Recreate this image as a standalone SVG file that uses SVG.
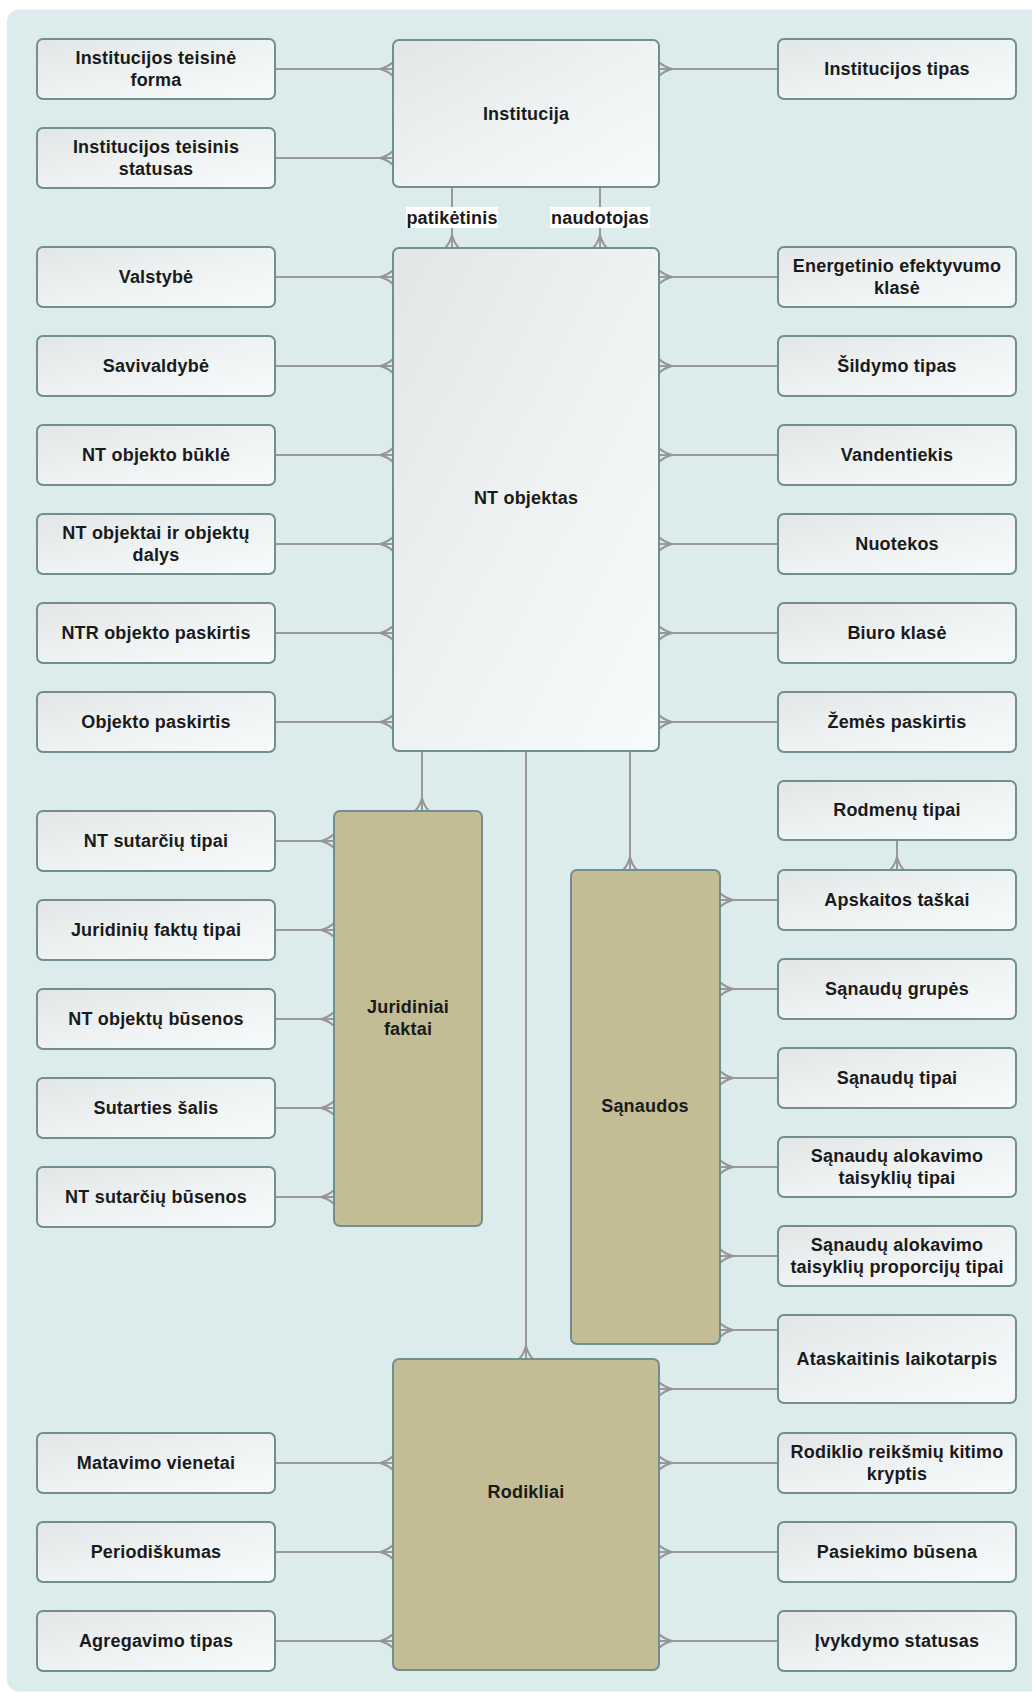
<svg xmlns="http://www.w3.org/2000/svg" width="1032" height="1693" viewBox="0 0 1032 1693">
<defs>
<linearGradient id="boxg" x1="0" y1="0" x2="1" y2="1">
<stop offset="0" stop-color="#e2e6e7"/>
<stop offset="0.5" stop-color="#eef2f3"/>
<stop offset="1" stop-color="#f8fbfc"/>
</linearGradient>
<marker id="many" viewBox="-15 -9 18 18" refX="0" refY="0" markerWidth="18" markerHeight="18" markerUnits="userSpaceOnUse" orient="auto">
<path d="M -13 0 Q -5 -2 0 -7 M -13 0 Q -5 2 0 7" fill="none" stroke="#959595" stroke-width="2"/>
</marker>
<style>
.bg{fill:#dcebeb}
.box{fill:url(#boxg);stroke:#708f8e;stroke-width:2}
.ent{fill:#c3bc95;stroke:#708f8e;stroke-width:2}
.t{font-family:"Liberation Sans",Arial,sans-serif;font-weight:bold;font-size:18px;fill:#1a1a1a;text-anchor:middle;letter-spacing:0.2px}
.c{fill:none;stroke:#999999;stroke-width:2;marker-end:url(#many)}
.lbl{fill:#ffffff}
</style>
</defs>
<rect class="bg" x="7" y="9.5" width="1040" height="1682" rx="12"/>

<g id="connectors">
<line class="c" x1="275" y1="69" x2="393" y2="69"/>
<line class="c" x1="275" y1="158" x2="393" y2="158"/>
<line class="c" x1="778" y1="69" x2="659" y2="69"/>
<line class="c" x1="452" y1="187" x2="452" y2="248"/>
<line class="c" x1="600" y1="187" x2="600" y2="248"/>
<line class="c" x1="275" y1="277" x2="393" y2="277"/>
<line class="c" x1="275" y1="366" x2="393" y2="366"/>
<line class="c" x1="275" y1="455" x2="393" y2="455"/>
<line class="c" x1="275" y1="544" x2="393" y2="544"/>
<line class="c" x1="275" y1="633" x2="393" y2="633"/>
<line class="c" x1="275" y1="722" x2="393" y2="722"/>
<line class="c" x1="778" y1="277" x2="659" y2="277"/>
<line class="c" x1="778" y1="366" x2="659" y2="366"/>
<line class="c" x1="778" y1="455" x2="659" y2="455"/>
<line class="c" x1="778" y1="544" x2="659" y2="544"/>
<line class="c" x1="778" y1="633" x2="659" y2="633"/>
<line class="c" x1="778" y1="722" x2="659" y2="722"/>
<line class="c" x1="422" y1="751" x2="422" y2="811"/>
<line class="c" x1="630" y1="751" x2="630" y2="870"/>
<line class="c" x1="526" y1="751" x2="526" y2="1359"/>
<line class="c" x1="275" y1="841" x2="334" y2="841"/>
<line class="c" x1="275" y1="930" x2="334" y2="930"/>
<line class="c" x1="275" y1="1019" x2="334" y2="1019"/>
<line class="c" x1="275" y1="1108" x2="334" y2="1108"/>
<line class="c" x1="275" y1="1197" x2="334" y2="1197"/>
<line class="c" x1="897" y1="840" x2="897" y2="870"/>
<line class="c" x1="778" y1="900" x2="720" y2="900"/>
<line class="c" x1="778" y1="989" x2="720" y2="989"/>
<line class="c" x1="778" y1="1078" x2="720" y2="1078"/>
<line class="c" x1="778" y1="1167" x2="720" y2="1167"/>
<line class="c" x1="778" y1="1256" x2="720" y2="1256"/>
<line class="c" x1="778" y1="1330" x2="720" y2="1330"/>
<line class="c" x1="778" y1="1389" x2="659" y2="1389"/>
<line class="c" x1="778" y1="1463" x2="659" y2="1463"/>
<line class="c" x1="778" y1="1552" x2="659" y2="1552"/>
<line class="c" x1="778" y1="1641" x2="659" y2="1641"/>
<line class="c" x1="275" y1="1463" x2="393" y2="1463"/>
<line class="c" x1="275" y1="1552" x2="393" y2="1552"/>
<line class="c" x1="275" y1="1641" x2="393" y2="1641"/>
<g id="label-patiketinis">
<rect class="lbl" x="406" y="207" width="92" height="21"/>
<text class="t" x="452" y="224">patikėtinis</text>
</g>
<g id="label-naudotojas">
<rect class="lbl" x="550" y="207" width="100" height="21"/>
<text class="t" x="600" y="224">naudotojas</text>
</g>
</g>

<g id="institucija"><rect class="box" x="393" y="40" width="266" height="147" rx="6"/><text class="t" x="526" y="120">Institucija</text></g>
<g id="nt-objektas"><rect class="box" x="393" y="248" width="266" height="503" rx="6"/><text class="t" x="526" y="504">NT objektas</text></g>
<g id="juridiniai-faktai"><rect class="ent" x="334" y="811" width="148" height="415" rx="6"/><text class="t" x="408" y="1013">Juridiniai</text><text class="t" x="408" y="1035">faktai</text></g>
<g id="sanaudos"><rect class="ent" x="571" y="870" width="149" height="474" rx="6"/><text class="t" x="645" y="1112">Sąnaudos</text></g>
<g id="rodikliai"><rect class="ent" x="393" y="1359" width="266" height="311" rx="6"/><text class="t" x="526" y="1498">Rodikliai</text></g>

<g id="inst-teisine-forma"><rect class="box" x="37" y="39" width="238" height="60" rx="6"/><text class="t" x="156" y="64">Institucijos teisinė</text><text class="t" x="156" y="86">forma</text></g>
<g id="inst-teisinis-statusas"><rect class="box" x="37" y="128" width="238" height="60" rx="6"/><text class="t" x="156" y="153">Institucijos teisinis</text><text class="t" x="156" y="175">statusas</text></g>
<g id="valstybe"><rect class="box" x="37" y="247" width="238" height="60" rx="6"/><text class="t" x="156" y="283">Valstybė</text></g>
<g id="savivaldybe"><rect class="box" x="37" y="336" width="238" height="60" rx="6"/><text class="t" x="156" y="372">Savivaldybė</text></g>
<g id="nt-objekto-bukle"><rect class="box" x="37" y="425" width="238" height="60" rx="6"/><text class="t" x="156" y="461">NT objekto būklė</text></g>
<g id="nt-objektai-dalys"><rect class="box" x="37" y="514" width="238" height="60" rx="6"/><text class="t" x="156" y="539">NT objektai ir objektų</text><text class="t" x="156" y="561">dalys</text></g>
<g id="ntr-objekto-paskirtis"><rect class="box" x="37" y="603" width="238" height="60" rx="6"/><text class="t" x="156" y="639">NTR objekto paskirtis</text></g>
<g id="objekto-paskirtis"><rect class="box" x="37" y="692" width="238" height="60" rx="6"/><text class="t" x="156" y="728">Objekto paskirtis</text></g>
<g id="nt-sutarciu-tipai"><rect class="box" x="37" y="811" width="238" height="60" rx="6"/><text class="t" x="156" y="847">NT sutarčių tipai</text></g>
<g id="juridiniu-faktu-tipai"><rect class="box" x="37" y="900" width="238" height="60" rx="6"/><text class="t" x="156" y="936">Juridinių faktų tipai</text></g>
<g id="nt-objektu-busenos"><rect class="box" x="37" y="989" width="238" height="60" rx="6"/><text class="t" x="156" y="1025">NT objektų būsenos</text></g>
<g id="sutarties-salis"><rect class="box" x="37" y="1078" width="238" height="60" rx="6"/><text class="t" x="156" y="1114">Sutarties šalis</text></g>
<g id="nt-sutarciu-busenos"><rect class="box" x="37" y="1167" width="238" height="60" rx="6"/><text class="t" x="156" y="1203">NT sutarčių būsenos</text></g>
<g id="matavimo-vienetai"><rect class="box" x="37" y="1433" width="238" height="60" rx="6"/><text class="t" x="156" y="1469">Matavimo vienetai</text></g>
<g id="periodiskumas"><rect class="box" x="37" y="1522" width="238" height="60" rx="6"/><text class="t" x="156" y="1558">Periodiškumas</text></g>
<g id="agregavimo-tipas"><rect class="box" x="37" y="1611" width="238" height="60" rx="6"/><text class="t" x="156" y="1647">Agregavimo tipas</text></g>

<g id="institucijos-tipas"><rect class="box" x="778" y="39" width="238" height="60" rx="6"/><text class="t" x="897" y="75">Institucijos tipas</text></g>
<g id="energetinio-klase"><rect class="box" x="778" y="247" width="238" height="60" rx="6"/><text class="t" x="897" y="272">Energetinio efektyvumo</text><text class="t" x="897" y="294">klasė</text></g>
<g id="sildymo-tipas"><rect class="box" x="778" y="336" width="238" height="60" rx="6"/><text class="t" x="897" y="372">Šildymo tipas</text></g>
<g id="vandentiekis"><rect class="box" x="778" y="425" width="238" height="60" rx="6"/><text class="t" x="897" y="461">Vandentiekis</text></g>
<g id="nuotekos"><rect class="box" x="778" y="514" width="238" height="60" rx="6"/><text class="t" x="897" y="550">Nuotekos</text></g>
<g id="biuro-klase"><rect class="box" x="778" y="603" width="238" height="60" rx="6"/><text class="t" x="897" y="639">Biuro klasė</text></g>
<g id="zemes-paskirtis"><rect class="box" x="778" y="692" width="238" height="60" rx="6"/><text class="t" x="897" y="728">Žemės paskirtis</text></g>
<g id="rodmenu-tipai"><rect class="box" x="778" y="781" width="238" height="59" rx="6"/><text class="t" x="897" y="816">Rodmenų tipai</text></g>
<g id="apskaitos-taskai"><rect class="box" x="778" y="870" width="238" height="60" rx="6"/><text class="t" x="897" y="906">Apskaitos taškai</text></g>
<g id="sanaudu-grupes"><rect class="box" x="778" y="959" width="238" height="60" rx="6"/><text class="t" x="897" y="995">Sąnaudų grupės</text></g>
<g id="sanaudu-tipai"><rect class="box" x="778" y="1048" width="238" height="60" rx="6"/><text class="t" x="897" y="1084">Sąnaudų tipai</text></g>
<g id="alokavimo-tipai"><rect class="box" x="778" y="1137" width="238" height="60" rx="6"/><text class="t" x="897" y="1162">Sąnaudų alokavimo</text><text class="t" x="897" y="1184">taisyklių tipai</text></g>
<g id="alokavimo-proporciju-tipai"><rect class="box" x="778" y="1226" width="238" height="60" rx="6"/><text class="t" x="897" y="1251">Sąnaudų alokavimo</text><text class="t" x="897" y="1273">taisyklių proporcijų tipai</text></g>
<g id="ataskaitinis-laikotarpis"><rect class="box" x="778" y="1315" width="238" height="88" rx="6"/><text class="t" x="897" y="1365">Ataskaitinis laikotarpis</text></g>
<g id="rodiklio-kryptis"><rect class="box" x="778" y="1433" width="238" height="60" rx="6"/><text class="t" x="897" y="1458">Rodiklio reikšmių kitimo</text><text class="t" x="897" y="1480">kryptis</text></g>
<g id="pasiekimo-busena"><rect class="box" x="778" y="1522" width="238" height="60" rx="6"/><text class="t" x="897" y="1558">Pasiekimo būsena</text></g>
<g id="ivykdymo-statusas"><rect class="box" x="778" y="1611" width="238" height="60" rx="6"/><text class="t" x="897" y="1647">Įvykdymo statusas</text></g>
</svg>
